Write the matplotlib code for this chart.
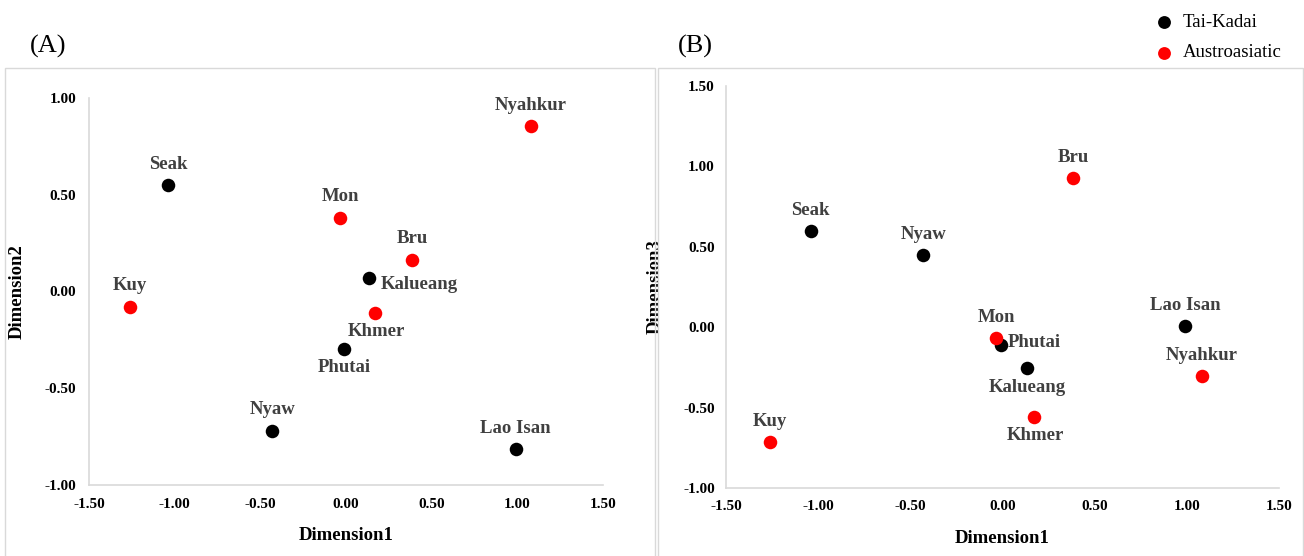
import matplotlib.pyplot as plt
from matplotlib.patches import Rectangle

plt.rcParams['font.family'] = ['Liberation Serif', 'DejaVu Serif']

# MDS coordinates
names = ['Seak', 'Kuy', 'Mon', 'Bru', 'Kalueang', 'Khmer', 'Phutai', 'Nyaw', 'Lao Isan', 'Nyahkur']
group = ['Tai-Kadai', 'Austroasiatic', 'Austroasiatic', 'Austroasiatic', 'Tai-Kadai',
         'Austroasiatic', 'Tai-Kadai', 'Tai-Kadai', 'Tai-Kadai', 'Austroasiatic']
dim1 = [-1.04, -1.26, -0.035, 0.385, 0.135, 0.17, -0.01, -0.43, 0.99, 1.08]
dim2 = [0.55, -0.08, 0.38, 0.163, 0.07, -0.11, -0.297, -0.72, -0.814, 0.855]
dim3 = [0.597, -0.715, -0.07, 0.927, -0.255, -0.56, -0.11, 0.448, 0.006, -0.305]

colors = {'Tai-Kadai': 'black', 'Austroasiatic': '#ff0000'}

# label offsets in points (dx, dy, ha, va)
off_a = {'Seak': (0, 9, 'center', 'bottom'), 'Kuy': (0, 9, 'center', 'bottom'),
         'Mon': (0, 9, 'center', 'bottom'), 'Bru': (0, 9, 'center', 'bottom'),
         'Kalueang': (8, -5, 'left', 'center'), 'Khmer': (1, -7, 'center', 'top'),
         'Phutai': (0, -7, 'center', 'top'), 'Nyaw': (0, 9, 'center', 'bottom'),
         'Lao Isan': (0, 9, 'center', 'bottom'), 'Nyahkur': (0, 9, 'center', 'bottom')}
off_b = {'Seak': (0, 9, 'center', 'bottom'), 'Kuy': (0, 9, 'center', 'bottom'),
         'Mon': (0, 9, 'center', 'bottom'), 'Bru': (0, 9, 'center', 'bottom'),
         'Kalueang': (0, -8, 'center', 'top'), 'Khmer': (1, -7, 'center', 'top'),
         'Phutai': (5, 2, 'left', 'center'), 'Nyaw': (0, 9, 'center', 'bottom'),
         'Lao Isan': (0, 9, 'center', 'bottom'), 'Nyahkur': (0, 9, 'center', 'bottom')}

fig = plt.figure(figsize=(13.04, 5.56), dpi=100)

# outer chart-area borders
fig.patches.append(Rectangle((5 / 1304, -0.01), 650 / 1304, 1 - 68 / 556 + 0.01,
                             transform=fig.transFigure, fill=False, edgecolor='#d9d9d9', lw=1))
fig.patches.append(Rectangle((658 / 1304, -0.01), 645 / 1304, 1 - 68 / 556 + 0.01,
                             transform=fig.transFigure, fill=False, edgecolor='#d9d9d9', lw=1))

ax_a = fig.add_axes([89 / 1304, 1 - 485 / 556, 514 / 1304, 387 / 556])
ax_b = fig.add_axes([726 / 1304, 1 - 488 / 556, 553 / 1304, 402 / 556])


def draw(ax, ys, offs, ylim, yticks, ylabel, ylab_x, xlab_y, ypad):
    for g in ['Tai-Kadai', 'Austroasiatic']:
        xs = [dim1[i] for i in range(len(names)) if group[i] == g]
        yy = [ys[i] for i in range(len(names)) if group[i] == g]
        ax.scatter(xs, yy, s=95, color=colors[g], label=g, zorder=3, linewidths=0)
    for i, n in enumerate(names):
        dx, dy, ha, va = offs[n]
        ax.annotate(n, (dim1[i], ys[i]), xytext=(dx, dy), textcoords='offset points',
                    ha=ha, va=va, fontsize=13.5, fontweight='bold', color='#404040')
    ax.set_xlim(-1.5, 1.5)
    ax.set_ylim(*ylim)
    ax.set_xticks([-1.5, -1.0, -0.5, 0.0, 0.5, 1.0, 1.5])
    ax.set_yticks(yticks)
    ax.set_xticklabels(['%.2f' % v for v in ax.get_xticks()], fontweight='bold', fontsize=11)
    ax.set_yticklabels(['%.2f' % v for v in yticks], fontweight='bold', fontsize=11)
    ax.tick_params(axis='x', length=0, pad=9)
    ax.tick_params(axis='y', length=0, pad=ypad)
    for s in ['top', 'right']:
        ax.spines[s].set_visible(False)
    for s in ['left', 'bottom']:
        ax.spines[s].set_color('#d9d9d9')
        ax.spines[s].set_linewidth(1.2)
    ax.set_xlabel('Dimension1', fontsize=13.5, fontweight='bold')
    ax.set_ylabel(ylabel, fontsize=13.5, fontweight='bold')
    ax.yaxis.set_label_coords(ylab_x, 0.5)
    ax.xaxis.set_label_coords(0.5, xlab_y)


draw(ax_a, dim2, off_a, (-1.0, 1.0), [-1.0, -0.5, 0.0, 0.5, 1.0], 'Dimension2', -0.123, -0.108, 9)
draw(ax_b, dim3, off_b, (-1.0, 1.5), [-1.0, -0.5, 0.0, 0.5, 1.0, 1.5], 'Dimension3', -0.112, -0.104, 8)

fig.text(30 / 1304, 1 - 46 / 556, '(A)', fontsize=19, va='center')
fig.text(678 / 1304, 1 - 46 / 556, '(B)', fontsize=19, va='center')

fig.legend(*ax_b.get_legend_handles_labels(), loc='upper left',
           bbox_to_anchor=(1128 / 1304, 1.005), frameon=False, fontsize=13.5,
           handletextpad=0.0, labelspacing=0.7, markerscale=0.95)

fig.savefig('out.png', dpi=100)
